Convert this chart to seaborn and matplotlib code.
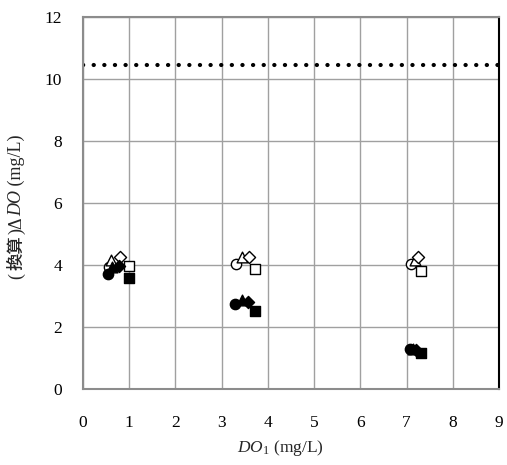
import matplotlib
matplotlib.use("Agg")
import matplotlib.pyplot as plt
import seaborn as sns
import pandas as pd

sns.set_theme(style="white")
plt.rcParams['font.family'] = ['Liberation Serif', 'Noto Sans CJK JP']
plt.rcParams['mathtext.fontset'] = 'custom'
plt.rcParams['mathtext.rm'] = 'Liberation Serif'
plt.rcParams['mathtext.it'] = 'Liberation Serif:italic'

# Data
series_names = ["open_circle", "open_triangle", "open_diamond", "open_square",
                "filled_circle", "filled_triangle", "filled_diamond", "filled_square"]
x_open_circle = [0.57, 3.31, 7.09]
y_open_circle = [3.95, 4.02, 4.03]
x_open_triangle = [0.60, 3.43, 7.19]
y_open_triangle = [4.15, 4.25, 4.17]
x_open_diamond = [0.80, 3.59, 7.25]
y_open_diamond = [4.27, 4.25, 4.25]
x_open_square = [1.00, 3.72, 7.31]
y_open_square = [3.97, 3.86, 3.82]
x_filled_circle = [0.55, 3.29, 7.08]
y_filled_circle = [3.70, 2.74, 1.29]
x_filled_triangle = [0.62, 3.43, 7.15]
y_filled_triangle = [3.95, 2.87, 1.30]
x_filled_diamond = [0.77, 3.57, 7.20]
y_filled_diamond = [3.97, 2.82, 1.25]
x_filled_square = [1.00, 3.72, 7.32]
y_filled_square = [3.57, 2.53, 1.16]
reference_level = 10.45
x_ticks = [0, 1, 2, 3, 4, 5, 6, 7, 8, 9]
y_ticks = [0, 2, 4, 6, 8, 10, 12]
y_label_parts = ["(", "換算", ")Δ", "DO", " (mg/L)"]

data = {
    "open_circle": (x_open_circle, y_open_circle),
    "open_triangle": (x_open_triangle, y_open_triangle),
    "open_diamond": (x_open_diamond, y_open_diamond),
    "open_square": (x_open_square, y_open_square),
    "filled_circle": (x_filled_circle, y_filled_circle),
    "filled_triangle": (x_filled_triangle, y_filled_triangle),
    "filled_diamond": (x_filled_diamond, y_filled_diamond),
    "filled_square": (x_filled_square, y_filled_square),
}
styles = {
    "open_circle": ("o", "white", 55),
    "open_triangle": ("^", "white", 60),
    "open_diamond": ("D", "white", 38),
    "open_square": ("s", "white", 50),
    "filled_circle": ("o", "black", 55),
    "filled_triangle": ("^", "black", 60),
    "filled_diamond": ("D", "black", 38),
    "filled_square": ("s", "black", 50),
}

W, H = 507, 465
fig = plt.figure(figsize=(W / 100, H / 100), dpi=100)
ax = fig.add_axes([83 / W, 1 - 389 / H, (499 - 83) / W, (389 - 17) / H])

ax.axhline(reference_level, color="black", lw=3.0, linestyle=(0, (0.05, 2.5)),
           dash_capstyle="round", zorder=2)

for name in series_names:
    xs, ys = data[name]
    df = pd.DataFrame({"x": xs, "y": ys})
    m, fc, s = styles[name]
    sns.scatterplot(data=df, x="x", y="y", ax=ax, marker=m, s=s,
                    facecolor=fc, edgecolor="black", linewidth=1.0, zorder=3)

ax.set_xlim(0, 9)
ax.set_ylim(0, 12)
ax.set_xticks(x_ticks)
ax.set_yticks(y_ticks)
ax.set_xticklabels([str(t) for t in x_ticks])
ax.set_yticklabels([str(t) for t in y_ticks])
ax.tick_params(axis="both", length=0, labelsize=12.5, colors="black")
ax.tick_params(axis="x", pad=19)
ax.tick_params(axis="y", pad=15)
ax.grid(True, color="#a0a0a0", lw=1.0)
ax.set_axisbelow(True)
for side in ["left", "bottom", "top"]:
    ax.spines[side].set_color("#8c8c8c")
    ax.spines[side].set_linewidth(1.5)
ax.spines["right"].set_color("black")
ax.spines["right"].set_linewidth(1.5)

ax.set_xlabel(r"$DO$$_{\mathrm{1}}$ (mg/L)", fontsize=12.5)
ax.set_ylabel("")
ax.xaxis.set_label_coords((280 - 83) / 416, (389 - 438) / 372)

# y label built from pieces (serif / CJK / italic), rotated 90 degrees
fam = ['Liberation Serif', 'Noto Sans CJK JP']
part_props = [
    dict(family=fam, fontsize=13),
    dict(family=['Noto Sans CJK JP'], weight="medium", fontsize=12.5),
    dict(family=fam, fontsize=13),
    dict(family=fam, style="italic", fontsize=13),
    dict(family=fam, fontsize=13),
]
gaps_after = [3.5, 1.5, 0, 0, 0]
renderer = fig.canvas.get_renderer()
lengths = []
for txt, props in zip(y_label_parts, part_props):
    probe = fig.text(0, 0, txt.replace(" ", "\u00a0"), **props)
    lengths.append(probe.get_window_extent(renderer).width)
    probe.remove()
total = sum(lengths) + sum(gaps_after)
center_y = H - 207
base_x = 21
y0 = center_y - total / 2
for (txt, props), L, g in zip(zip(y_label_parts, part_props), lengths, gaps_after):
    fig.text(base_x / W, y0 / H, txt.replace(" ", "\u00a0"), rotation=90,
             rotation_mode="anchor", ha="left", va="baseline", **props)
    y0 += L + g

fig.savefig("out.png", dpi=100)
